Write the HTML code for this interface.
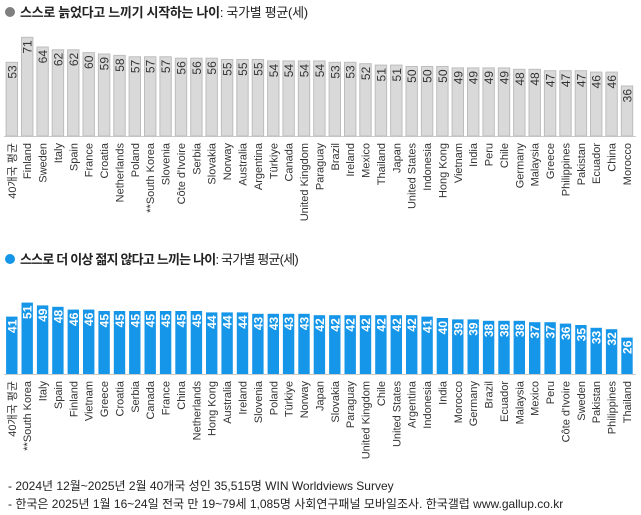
<!DOCTYPE html>
<html><head><meta charset="utf-8"><style>
body{margin:0;background:#fff;}
svg{display:block;font-family:"Liberation Sans","Noto Sans CJK KR",sans-serif;}
.g rect{fill:#d9d9d9;stroke:#bdbdbd;stroke-width:1}
.b rect{fill:#1696e9}
.g .v{font-size:12px;fill:#333;text-anchor:end}
.b .v{font-size:12px;fill:#fff;font-weight:bold;text-anchor:end}
.l{font-size:11px;fill:#333;text-anchor:end}
.t{font-size:13px;fill:#222;letter-spacing:-0.3px}
.f{font-size:12px;fill:#222}
</style></head><body>
<svg width="641" height="515" viewBox="0 0 641 515">
<circle cx="10" cy="12" r="5" fill="#7f7f7f"/>
<text class="t" x="20" y="17"><tspan font-weight="bold">스스로 늙었다고 느끼기 시작하는 나이</tspan>: 국가별 평균(세)</text>
<circle cx="10" cy="259" r="5" fill="#1696e9"/>
<text class="t" x="20" y="264" style="letter-spacing:-0.8px"><tspan font-weight="bold">스스로 더 이상 젊지 않다고 느끼는 나이</tspan>: 국가별 평균(세)</text>
<line x1="4" y1="136.5" x2="636" y2="136.5" stroke="#ccc"/>
<line x1="4" y1="374.5" x2="636" y2="374.5" stroke="#ccc"/>
<g class="g">
<g transform="translate(11.8,136)"><rect x="-5.7" y="-73.7" width="11.4" height="73.7"/><text class="v" transform="rotate(-90)" x="70.7" y="4.5">53</text><text class="l" transform="rotate(-90)" x="-7" y="4">40개국 평균</text></g>
<g transform="translate(27.2,136)"><rect x="-5.7" y="-98.7" width="11.4" height="98.7"/><text class="v" transform="rotate(-90)" x="95.7" y="4.5">71</text><text class="l" transform="rotate(-90)" x="-7" y="4">Finland</text></g>
<g transform="translate(42.6,136)"><rect x="-5.7" y="-89" width="11.4" height="89"/><text class="v" transform="rotate(-90)" x="86" y="4.5">64</text><text class="l" transform="rotate(-90)" x="-7" y="4">Sweden</text></g>
<g transform="translate(57.9,136)"><rect x="-5.7" y="-86.2" width="11.4" height="86.2"/><text class="v" transform="rotate(-90)" x="83.2" y="4.5">62</text><text class="l" transform="rotate(-90)" x="-7" y="4">Italy</text></g>
<g transform="translate(73.3,136)"><rect x="-5.7" y="-86.2" width="11.4" height="86.2"/><text class="v" transform="rotate(-90)" x="83.2" y="4.5">62</text><text class="l" transform="rotate(-90)" x="-7" y="4">Spain</text></g>
<g transform="translate(88.7,136)"><rect x="-5.7" y="-83.4" width="11.4" height="83.4"/><text class="v" transform="rotate(-90)" x="80.4" y="4.5">60</text><text class="l" transform="rotate(-90)" x="-7" y="4">France</text></g>
<g transform="translate(104.1,136)"><rect x="-5.7" y="-82" width="11.4" height="82"/><text class="v" transform="rotate(-90)" x="79" y="4.5">59</text><text class="l" transform="rotate(-90)" x="-7" y="4">Croatia</text></g>
<g transform="translate(119.5,136)"><rect x="-5.7" y="-80.6" width="11.4" height="80.6"/><text class="v" transform="rotate(-90)" x="77.6" y="4.5">58</text><text class="l" transform="rotate(-90)" x="-7" y="4">Netherlands</text></g>
<g transform="translate(134.8,136)"><rect x="-5.7" y="-79.2" width="11.4" height="79.2"/><text class="v" transform="rotate(-90)" x="76.2" y="4.5">57</text><text class="l" transform="rotate(-90)" x="-7" y="4">Poland</text></g>
<g transform="translate(150.2,136)"><rect x="-5.7" y="-79.2" width="11.4" height="79.2"/><text class="v" transform="rotate(-90)" x="76.2" y="4.5">57</text><text class="l" transform="rotate(-90)" x="-7" y="4">**South Korea</text></g>
<g transform="translate(165.6,136)"><rect x="-5.7" y="-79.2" width="11.4" height="79.2"/><text class="v" transform="rotate(-90)" x="76.2" y="4.5">57</text><text class="l" transform="rotate(-90)" x="-7" y="4">Slovenia</text></g>
<g transform="translate(181,136)"><rect x="-5.7" y="-77.8" width="11.4" height="77.8"/><text class="v" transform="rotate(-90)" x="74.8" y="4.5">56</text><text class="l" transform="rotate(-90)" x="-7" y="4">Côte d'Ivoire</text></g>
<g transform="translate(196.4,136)"><rect x="-5.7" y="-77.8" width="11.4" height="77.8"/><text class="v" transform="rotate(-90)" x="74.8" y="4.5">56</text><text class="l" transform="rotate(-90)" x="-7" y="4">Serbia</text></g>
<g transform="translate(211.7,136)"><rect x="-5.7" y="-77.8" width="11.4" height="77.8"/><text class="v" transform="rotate(-90)" x="74.8" y="4.5">56</text><text class="l" transform="rotate(-90)" x="-7" y="4">Slovakia</text></g>
<g transform="translate(227.1,136)"><rect x="-5.7" y="-76.5" width="11.4" height="76.5"/><text class="v" transform="rotate(-90)" x="73.5" y="4.5">55</text><text class="l" transform="rotate(-90)" x="-7" y="4">Norway</text></g>
<g transform="translate(242.5,136)"><rect x="-5.7" y="-76.5" width="11.4" height="76.5"/><text class="v" transform="rotate(-90)" x="73.5" y="4.5">55</text><text class="l" transform="rotate(-90)" x="-7" y="4">Australia</text></g>
<g transform="translate(257.9,136)"><rect x="-5.7" y="-76.5" width="11.4" height="76.5"/><text class="v" transform="rotate(-90)" x="73.5" y="4.5">55</text><text class="l" transform="rotate(-90)" x="-7" y="4">Argentina</text></g>
<g transform="translate(273.3,136)"><rect x="-5.7" y="-75.1" width="11.4" height="75.1"/><text class="v" transform="rotate(-90)" x="72.1" y="4.5">54</text><text class="l" transform="rotate(-90)" x="-7" y="4">Türkiye</text></g>
<g transform="translate(288.6,136)"><rect x="-5.7" y="-75.1" width="11.4" height="75.1"/><text class="v" transform="rotate(-90)" x="72.1" y="4.5">54</text><text class="l" transform="rotate(-90)" x="-7" y="4">Canada</text></g>
<g transform="translate(304,136)"><rect x="-5.7" y="-75.1" width="11.4" height="75.1"/><text class="v" transform="rotate(-90)" x="72.1" y="4.5">54</text><text class="l" transform="rotate(-90)" x="-7" y="4">United Kingdom</text></g>
<g transform="translate(319.4,136)"><rect x="-5.7" y="-75.1" width="11.4" height="75.1"/><text class="v" transform="rotate(-90)" x="72.1" y="4.5">54</text><text class="l" transform="rotate(-90)" x="-7" y="4">Paraguay</text></g>
<g transform="translate(334.8,136)"><rect x="-5.7" y="-73.7" width="11.4" height="73.7"/><text class="v" transform="rotate(-90)" x="70.7" y="4.5">53</text><text class="l" transform="rotate(-90)" x="-7" y="4">Brazil</text></g>
<g transform="translate(350.2,136)"><rect x="-5.7" y="-73.7" width="11.4" height="73.7"/><text class="v" transform="rotate(-90)" x="70.7" y="4.5">53</text><text class="l" transform="rotate(-90)" x="-7" y="4">Ireland</text></g>
<g transform="translate(365.5,136)"><rect x="-5.7" y="-72.3" width="11.4" height="72.3"/><text class="v" transform="rotate(-90)" x="69.3" y="4.5">52</text><text class="l" transform="rotate(-90)" x="-7" y="4">Mexico</text></g>
<g transform="translate(380.9,136)"><rect x="-5.7" y="-70.9" width="11.4" height="70.9"/><text class="v" transform="rotate(-90)" x="67.9" y="4.5">51</text><text class="l" transform="rotate(-90)" x="-7" y="4">Thailand</text></g>
<g transform="translate(396.3,136)"><rect x="-5.7" y="-70.9" width="11.4" height="70.9"/><text class="v" transform="rotate(-90)" x="67.9" y="4.5">51</text><text class="l" transform="rotate(-90)" x="-7" y="4">Japan</text></g>
<g transform="translate(411.7,136)"><rect x="-5.7" y="-69.5" width="11.4" height="69.5"/><text class="v" transform="rotate(-90)" x="66.5" y="4.5">50</text><text class="l" transform="rotate(-90)" x="-7" y="4">United States</text></g>
<g transform="translate(427.1,136)"><rect x="-5.7" y="-69.5" width="11.4" height="69.5"/><text class="v" transform="rotate(-90)" x="66.5" y="4.5">50</text><text class="l" transform="rotate(-90)" x="-7" y="4">Indonesia</text></g>
<g transform="translate(442.4,136)"><rect x="-5.7" y="-69.5" width="11.4" height="69.5"/><text class="v" transform="rotate(-90)" x="66.5" y="4.5">50</text><text class="l" transform="rotate(-90)" x="-7" y="4">Hong Kong</text></g>
<g transform="translate(457.8,136)"><rect x="-5.7" y="-68.1" width="11.4" height="68.1"/><text class="v" transform="rotate(-90)" x="65.1" y="4.5">49</text><text class="l" transform="rotate(-90)" x="-7" y="4">Vietnam</text></g>
<g transform="translate(473.2,136)"><rect x="-5.7" y="-68.1" width="11.4" height="68.1"/><text class="v" transform="rotate(-90)" x="65.1" y="4.5">49</text><text class="l" transform="rotate(-90)" x="-7" y="4">India</text></g>
<g transform="translate(488.6,136)"><rect x="-5.7" y="-68.1" width="11.4" height="68.1"/><text class="v" transform="rotate(-90)" x="65.1" y="4.5">49</text><text class="l" transform="rotate(-90)" x="-7" y="4">Peru</text></g>
<g transform="translate(504,136)"><rect x="-5.7" y="-68.1" width="11.4" height="68.1"/><text class="v" transform="rotate(-90)" x="65.1" y="4.5">49</text><text class="l" transform="rotate(-90)" x="-7" y="4">Chile</text></g>
<g transform="translate(519.3,136)"><rect x="-5.7" y="-66.7" width="11.4" height="66.7"/><text class="v" transform="rotate(-90)" x="63.7" y="4.5">48</text><text class="l" transform="rotate(-90)" x="-7" y="4">Germany</text></g>
<g transform="translate(534.7,136)"><rect x="-5.7" y="-66.7" width="11.4" height="66.7"/><text class="v" transform="rotate(-90)" x="63.7" y="4.5">48</text><text class="l" transform="rotate(-90)" x="-7" y="4">Malaysia</text></g>
<g transform="translate(550.1,136)"><rect x="-5.7" y="-65.3" width="11.4" height="65.3"/><text class="v" transform="rotate(-90)" x="62.3" y="4.5">47</text><text class="l" transform="rotate(-90)" x="-7" y="4">Greece</text></g>
<g transform="translate(565.5,136)"><rect x="-5.7" y="-65.3" width="11.4" height="65.3"/><text class="v" transform="rotate(-90)" x="62.3" y="4.5">47</text><text class="l" transform="rotate(-90)" x="-7" y="4">Philippines</text></g>
<g transform="translate(580.9,136)"><rect x="-5.7" y="-65.3" width="11.4" height="65.3"/><text class="v" transform="rotate(-90)" x="62.3" y="4.5">47</text><text class="l" transform="rotate(-90)" x="-7" y="4">Pakistan</text></g>
<g transform="translate(596.2,136)"><rect x="-5.7" y="-63.9" width="11.4" height="63.9"/><text class="v" transform="rotate(-90)" x="60.9" y="4.5">46</text><text class="l" transform="rotate(-90)" x="-7" y="4">Ecuador</text></g>
<g transform="translate(611.6,136)"><rect x="-5.7" y="-63.9" width="11.4" height="63.9"/><text class="v" transform="rotate(-90)" x="60.9" y="4.5">46</text><text class="l" transform="rotate(-90)" x="-7" y="4">China</text></g>
<g transform="translate(627,136)"><rect x="-5.7" y="-50" width="11.4" height="50"/><text class="v" transform="rotate(-90)" x="47" y="4.5">36</text><text class="l" transform="rotate(-90)" x="-7" y="4">Morocco</text></g>
</g>
<g class="b">
<g transform="translate(11.8,374)"><rect x="-5.7" y="-57.4" width="11.4" height="57.4"/><text class="v" transform="rotate(-90)" x="54.4" y="4.5">41</text><text class="l" transform="rotate(-90)" x="-7" y="4">40개국 평균</text></g>
<g transform="translate(27.2,374)"><rect x="-5.7" y="-71.4" width="11.4" height="71.4"/><text class="v" transform="rotate(-90)" x="68.4" y="4.5">51</text><text class="l" transform="rotate(-90)" x="-7" y="4">**South Korea</text></g>
<g transform="translate(42.6,374)"><rect x="-5.7" y="-68.6" width="11.4" height="68.6"/><text class="v" transform="rotate(-90)" x="65.6" y="4.5">49</text><text class="l" transform="rotate(-90)" x="-7" y="4">Italy</text></g>
<g transform="translate(57.9,374)"><rect x="-5.7" y="-67.2" width="11.4" height="67.2"/><text class="v" transform="rotate(-90)" x="64.2" y="4.5">48</text><text class="l" transform="rotate(-90)" x="-7" y="4">Spain</text></g>
<g transform="translate(73.3,374)"><rect x="-5.7" y="-64.4" width="11.4" height="64.4"/><text class="v" transform="rotate(-90)" x="61.4" y="4.5">46</text><text class="l" transform="rotate(-90)" x="-7" y="4">Finland</text></g>
<g transform="translate(88.7,374)"><rect x="-5.7" y="-64.4" width="11.4" height="64.4"/><text class="v" transform="rotate(-90)" x="61.4" y="4.5">46</text><text class="l" transform="rotate(-90)" x="-7" y="4">Vietnam</text></g>
<g transform="translate(104.1,374)"><rect x="-5.7" y="-63" width="11.4" height="63"/><text class="v" transform="rotate(-90)" x="60" y="4.5">45</text><text class="l" transform="rotate(-90)" x="-7" y="4">Greece</text></g>
<g transform="translate(119.5,374)"><rect x="-5.7" y="-63" width="11.4" height="63"/><text class="v" transform="rotate(-90)" x="60" y="4.5">45</text><text class="l" transform="rotate(-90)" x="-7" y="4">Croatia</text></g>
<g transform="translate(134.8,374)"><rect x="-5.7" y="-63" width="11.4" height="63"/><text class="v" transform="rotate(-90)" x="60" y="4.5">45</text><text class="l" transform="rotate(-90)" x="-7" y="4">Serbia</text></g>
<g transform="translate(150.2,374)"><rect x="-5.7" y="-63" width="11.4" height="63"/><text class="v" transform="rotate(-90)" x="60" y="4.5">45</text><text class="l" transform="rotate(-90)" x="-7" y="4">Canada</text></g>
<g transform="translate(165.6,374)"><rect x="-5.7" y="-63" width="11.4" height="63"/><text class="v" transform="rotate(-90)" x="60" y="4.5">45</text><text class="l" transform="rotate(-90)" x="-7" y="4">France</text></g>
<g transform="translate(181,374)"><rect x="-5.7" y="-63" width="11.4" height="63"/><text class="v" transform="rotate(-90)" x="60" y="4.5">45</text><text class="l" transform="rotate(-90)" x="-7" y="4">China</text></g>
<g transform="translate(196.4,374)"><rect x="-5.7" y="-63" width="11.4" height="63"/><text class="v" transform="rotate(-90)" x="60" y="4.5">45</text><text class="l" transform="rotate(-90)" x="-7" y="4">Netherlands</text></g>
<g transform="translate(211.7,374)"><rect x="-5.7" y="-61.6" width="11.4" height="61.6"/><text class="v" transform="rotate(-90)" x="58.6" y="4.5">44</text><text class="l" transform="rotate(-90)" x="-7" y="4">Hong Kong</text></g>
<g transform="translate(227.1,374)"><rect x="-5.7" y="-61.6" width="11.4" height="61.6"/><text class="v" transform="rotate(-90)" x="58.6" y="4.5">44</text><text class="l" transform="rotate(-90)" x="-7" y="4">Australia</text></g>
<g transform="translate(242.5,374)"><rect x="-5.7" y="-61.6" width="11.4" height="61.6"/><text class="v" transform="rotate(-90)" x="58.6" y="4.5">44</text><text class="l" transform="rotate(-90)" x="-7" y="4">Ireland</text></g>
<g transform="translate(257.9,374)"><rect x="-5.7" y="-60.2" width="11.4" height="60.2"/><text class="v" transform="rotate(-90)" x="57.2" y="4.5">43</text><text class="l" transform="rotate(-90)" x="-7" y="4">Slovenia</text></g>
<g transform="translate(273.3,374)"><rect x="-5.7" y="-60.2" width="11.4" height="60.2"/><text class="v" transform="rotate(-90)" x="57.2" y="4.5">43</text><text class="l" transform="rotate(-90)" x="-7" y="4">Poland</text></g>
<g transform="translate(288.6,374)"><rect x="-5.7" y="-60.2" width="11.4" height="60.2"/><text class="v" transform="rotate(-90)" x="57.2" y="4.5">43</text><text class="l" transform="rotate(-90)" x="-7" y="4">Türkiye</text></g>
<g transform="translate(304,374)"><rect x="-5.7" y="-60.2" width="11.4" height="60.2"/><text class="v" transform="rotate(-90)" x="57.2" y="4.5">43</text><text class="l" transform="rotate(-90)" x="-7" y="4">Norway</text></g>
<g transform="translate(319.4,374)"><rect x="-5.7" y="-58.8" width="11.4" height="58.8"/><text class="v" transform="rotate(-90)" x="55.8" y="4.5">42</text><text class="l" transform="rotate(-90)" x="-7" y="4">Japan</text></g>
<g transform="translate(334.8,374)"><rect x="-5.7" y="-58.8" width="11.4" height="58.8"/><text class="v" transform="rotate(-90)" x="55.8" y="4.5">42</text><text class="l" transform="rotate(-90)" x="-7" y="4">Slovakia</text></g>
<g transform="translate(350.2,374)"><rect x="-5.7" y="-58.8" width="11.4" height="58.8"/><text class="v" transform="rotate(-90)" x="55.8" y="4.5">42</text><text class="l" transform="rotate(-90)" x="-7" y="4">Paraguay</text></g>
<g transform="translate(365.5,374)"><rect x="-5.7" y="-58.8" width="11.4" height="58.8"/><text class="v" transform="rotate(-90)" x="55.8" y="4.5">42</text><text class="l" transform="rotate(-90)" x="-7" y="4">United Kingdom</text></g>
<g transform="translate(380.9,374)"><rect x="-5.7" y="-58.8" width="11.4" height="58.8"/><text class="v" transform="rotate(-90)" x="55.8" y="4.5">42</text><text class="l" transform="rotate(-90)" x="-7" y="4">Chile</text></g>
<g transform="translate(396.3,374)"><rect x="-5.7" y="-58.8" width="11.4" height="58.8"/><text class="v" transform="rotate(-90)" x="55.8" y="4.5">42</text><text class="l" transform="rotate(-90)" x="-7" y="4">United States</text></g>
<g transform="translate(411.7,374)"><rect x="-5.7" y="-58.8" width="11.4" height="58.8"/><text class="v" transform="rotate(-90)" x="55.8" y="4.5">42</text><text class="l" transform="rotate(-90)" x="-7" y="4">Argentina</text></g>
<g transform="translate(427.1,374)"><rect x="-5.7" y="-57.4" width="11.4" height="57.4"/><text class="v" transform="rotate(-90)" x="54.4" y="4.5">41</text><text class="l" transform="rotate(-90)" x="-7" y="4">Indonesia</text></g>
<g transform="translate(442.4,374)"><rect x="-5.7" y="-56" width="11.4" height="56"/><text class="v" transform="rotate(-90)" x="53" y="4.5">40</text><text class="l" transform="rotate(-90)" x="-7" y="4">India</text></g>
<g transform="translate(457.8,374)"><rect x="-5.7" y="-54.6" width="11.4" height="54.6"/><text class="v" transform="rotate(-90)" x="51.6" y="4.5">39</text><text class="l" transform="rotate(-90)" x="-7" y="4">Morocco</text></g>
<g transform="translate(473.2,374)"><rect x="-5.7" y="-54.6" width="11.4" height="54.6"/><text class="v" transform="rotate(-90)" x="51.6" y="4.5">39</text><text class="l" transform="rotate(-90)" x="-7" y="4">Germany</text></g>
<g transform="translate(488.6,374)"><rect x="-5.7" y="-53.2" width="11.4" height="53.2"/><text class="v" transform="rotate(-90)" x="50.2" y="4.5">38</text><text class="l" transform="rotate(-90)" x="-7" y="4">Brazil</text></g>
<g transform="translate(504,374)"><rect x="-5.7" y="-53.2" width="11.4" height="53.2"/><text class="v" transform="rotate(-90)" x="50.2" y="4.5">38</text><text class="l" transform="rotate(-90)" x="-7" y="4">Ecuador</text></g>
<g transform="translate(519.3,374)"><rect x="-5.7" y="-53.2" width="11.4" height="53.2"/><text class="v" transform="rotate(-90)" x="50.2" y="4.5">38</text><text class="l" transform="rotate(-90)" x="-7" y="4">Malaysia</text></g>
<g transform="translate(534.7,374)"><rect x="-5.7" y="-51.8" width="11.4" height="51.8"/><text class="v" transform="rotate(-90)" x="48.8" y="4.5">37</text><text class="l" transform="rotate(-90)" x="-7" y="4">Mexico</text></g>
<g transform="translate(550.1,374)"><rect x="-5.7" y="-51.8" width="11.4" height="51.8"/><text class="v" transform="rotate(-90)" x="48.8" y="4.5">37</text><text class="l" transform="rotate(-90)" x="-7" y="4">Peru</text></g>
<g transform="translate(565.5,374)"><rect x="-5.7" y="-50.4" width="11.4" height="50.4"/><text class="v" transform="rotate(-90)" x="47.4" y="4.5">36</text><text class="l" transform="rotate(-90)" x="-7" y="4">Côte d'Ivoire</text></g>
<g transform="translate(580.9,374)"><rect x="-5.7" y="-49" width="11.4" height="49"/><text class="v" transform="rotate(-90)" x="46" y="4.5">35</text><text class="l" transform="rotate(-90)" x="-7" y="4">Sweden</text></g>
<g transform="translate(596.2,374)"><rect x="-5.7" y="-46.2" width="11.4" height="46.2"/><text class="v" transform="rotate(-90)" x="43.2" y="4.5">33</text><text class="l" transform="rotate(-90)" x="-7" y="4">Pakistan</text></g>
<g transform="translate(611.6,374)"><rect x="-5.7" y="-44.8" width="11.4" height="44.8"/><text class="v" transform="rotate(-90)" x="41.8" y="4.5">32</text><text class="l" transform="rotate(-90)" x="-7" y="4">Philippines</text></g>
<g transform="translate(627,374)"><rect x="-5.7" y="-36.4" width="11.4" height="36.4"/><text class="v" transform="rotate(-90)" x="33.4" y="4.5">26</text><text class="l" transform="rotate(-90)" x="-7" y="4">Thailand</text></g>
</g>
<text class="f" x="8" y="490">- 2024년 12월~2025년 2월 40개국 성인 35,515명 WIN Worldviews Survey</text>
<text class="f" x="8" y="508">- 한국은 2025년 1월 16~24일 전국 만 19~79세 1,085명 사회연구패널 모바일조사. 한국갤럽 www.gallup.co.kr</text>
</svg>
</body></html>
